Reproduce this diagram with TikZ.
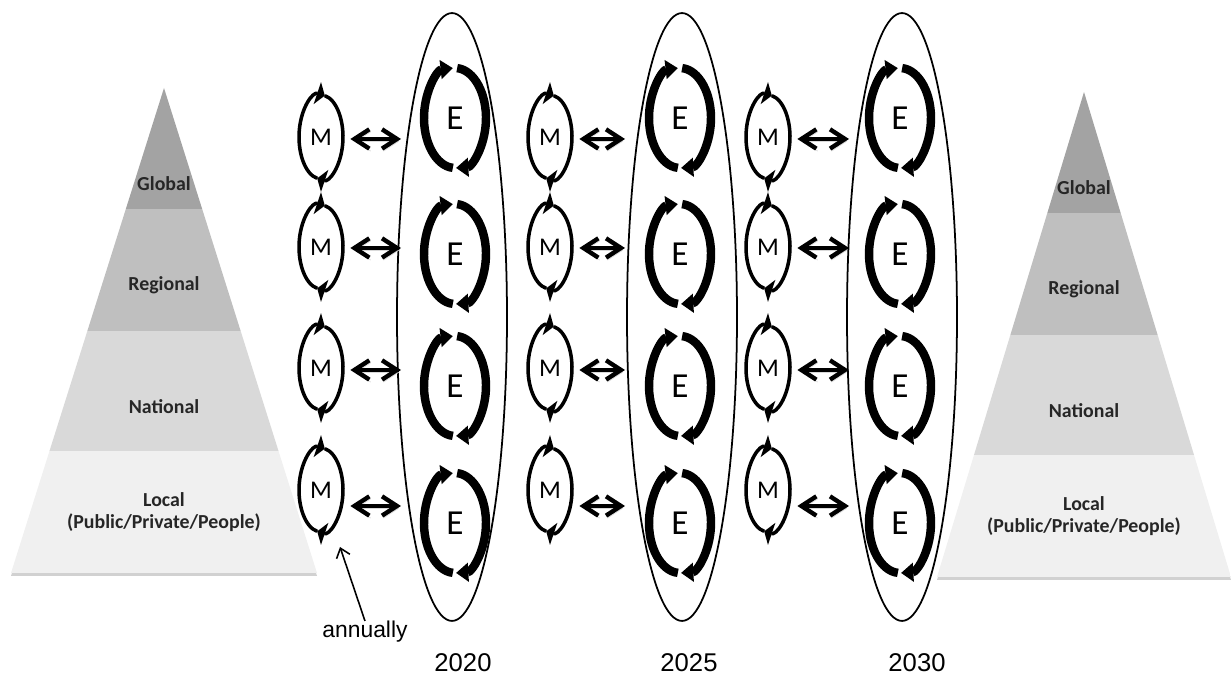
\documentclass[tikz,border=0pt]{standalone}
\usepackage{fontspec}
\usetikzlibrary{arrows.meta,shapes.geometric}
\setmainfont{Liberation Sans}
\newfontfamily\calibri{Carlito}

% grey levels of the pyramids
\definecolor{lvlglobal}{gray}{0.64}
\definecolor{lvlregional}{gray}{0.75}
\definecolor{lvlnational}{gray}{0.85}
\definecolor{lvllocal}{gray}{0.94}

\begin{document}
\begin{tikzpicture}[x=0.02cm, y=0.02cm,
    lvl/.style={font=\calibri\bfseries\fontsize{11.3}{12.2}\selectfont, align=center, text=black!85},
    mnode/.style={ellipse, minimum width=0.88cm, minimum height=1.68cm, inner sep=0pt,
        font=\calibri\fontsize{14.5}{14.5}\selectfont},
    enode/.style={ellipse, minimum width=1.24cm, minimum height=2cm, inner sep=0pt,
        font=\calibri\fontsize{20}{20}\selectfont},
    mloop/.style={line width=2pt, -{Triangle[length=4.5pt, width=13pt]}},
    eloop/.style={line width=4.8pt, -{Triangle[length=7pt, width=10.5pt]}},
    ring/.style={draw, line width=1pt, ellipse, minimum width=2.2cm, minimum height=12.16cm, inner sep=0pt},
    dblarrow/.style={line width=2.5pt, shorten <=4pt,
        {Straight Barb[length=8.5pt,width=11pt]}-{Straight Barb[length=8.5pt,width=11pt]},
        preaction={draw=black!15, transform canvas={shift={(0.8pt,-1.4pt)}}}},
    thinarrow/.style={line width=0.9pt, -{Straight Barb[length=5pt,width=8pt]}},
    yearlbl/.style={font=\fontsize{14.6}{14.6}\selectfont},
    annlbl/.style={font=\fontsize{13}{13}\selectfont, inner sep=0pt},
  ]
  \useasboundingbox (0,0) rectangle (1231,675);

  % the two pyramids of levels
  \foreach \p/\px/\py/\hw in {l/164/102/153, r/1084/98/147}{
    \begin{scope}[shift={(\px,\py)}]
      \fill[black!18] (0,482) -- (-\hw,-3) -- (\hw,-3) -- cycle;
      \begin{scope}
        \clip (0,485) -- (-\hw,0) -- (\hw,0) -- cycle;
        \fill[lvllocal] (-160,0) rectangle (160,122);
        \fill[lvlnational] (-160,122) rectangle (160,242);
        \fill[lvlregional] (-160,242) rectangle (160,364);
        \fill[lvlglobal] (-160,364) rectangle (160,490);
      \end{scope}
      \node[lvl] (glob\p) at (0,389) {Global};
      \node[lvl] (reg\p) at (0,288) {Regional};
      \node[lvl] (nat\p) at (0,166) {National};
      \node[lvl] (loc\p) at (0,61) {Local\\(Public/Private/People)};
    \end{scope}
  }

  % one column per year
  \foreach \c/\mx/\ax/\ex/\bx/\yx/\yr in {1/321/401/455/452/463/2020,
      2/550/625/680/682/689/2025, 3/768/849/900/902/917/2030}{
    \node[ring] (ring\c) at (\bx,358) {};
    \node[yearlbl] (yr\c) at (\yx,12) {\yr};
    \foreach \r/\my/\ay/\ey in {1/538/536/557, 2/428/427/421, 3/307/305/289, 4/185/169/152}{
      % M cycle
      \node[mnode] (m\c\r) at (\mx,\my) {M};
      \draw[mloop] (m\c\r.center) ++(260:0.44cm and 0.84cm)
        arc[start angle=260, end angle=80, x radius=0.44cm, y radius=0.84cm];
      \draw[mloop] (m\c\r.center) ++(80:0.44cm and 0.84cm)
        arc[start angle=80, end angle=-100, x radius=0.44cm, y radius=0.84cm];
      % E cycle
      \node[enode] (e\c\r) at (\ex,\ey) {E};
      \draw[eloop] (e\c\r.center) ++(266:0.62cm and 1cm)
        arc[start angle=266, end angle=94, x radius=0.62cm, y radius=1cm];
      \draw[eloop] (e\c\r.center) ++(86:0.62cm and 1cm)
        arc[start angle=86, end angle=-88, x radius=0.62cm, y radius=1cm];
      % link M <-> E
      \coordinate (t\c\r) at (\ax,\ay);
      \draw[dblarrow] (m\c\r.east |- t\c\r) -- (t\c\r);
    }
  }

  % annually
  \node[annlbl] (ann) at (365,43) {annually};
  \coordinate (annTip) at (340,128);
  \draw[thinarrow] (ann.north) -- (annTip);
\end{tikzpicture}
\end{document}
